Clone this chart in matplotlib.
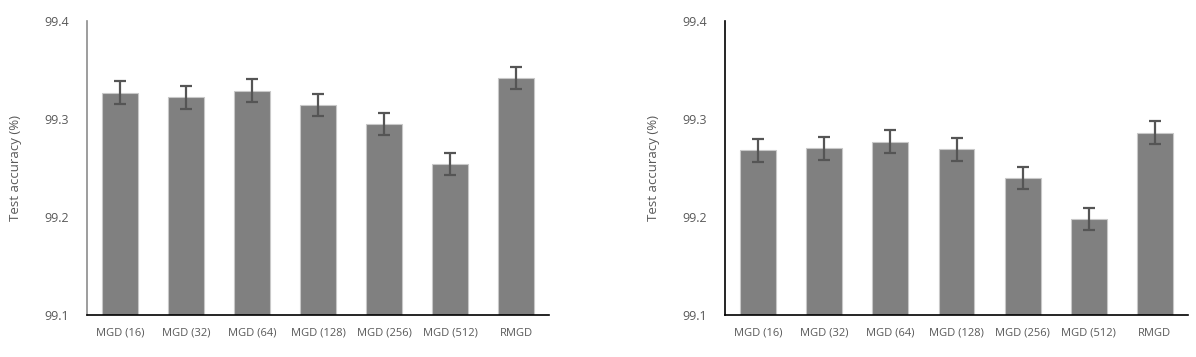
import matplotlib.pyplot as plt
import numpy as np

plt.rcParams['font.family'] = ['Open Sans', 'DejaVu Sans']

labels = ['MGD (16)', 'MGD (32)', 'MGD (64)', 'MGD (128)', 'MGD (256)', 'MGD (512)', 'RMGD']
acc_left = [99.327, 99.322, 99.329, 99.314, 99.295, 99.254, 99.342]
err_left = [0.0114, 0.0114, 0.0114, 0.0114, 0.0114, 0.0114, 0.0114]
acc_right = [99.268, 99.270, 99.277, 99.269, 99.240, 99.198, 99.286]
err_right = [0.0115, 0.0115, 0.0115, 0.0115, 0.0115, 0.0115, 0.0115]
yticks = [99.1, 99.2, 99.3, 99.4]

text_col = '#595959'

fig = plt.figure(figsize=(11.96, 3.57), dpi=100)
W, H = 1196, 357
ax1 = fig.add_axes([87 / W, 1 - 315 / H, 462 / W, 294 / H])
ax2 = fig.add_axes([725 / W, 1 - 315 / H, 463 / W, 294 / H])


def panel(ax, acc, err, left_spine_col):
    x = np.arange(len(labels))
    base = yticks[0]
    ax.bar(x, np.array(acc) - base, bottom=base, width=0.54,
           color='#808080', edgecolor='#c8c8c8', linewidth=0.8, zorder=2)
    ax.errorbar(x, acc, yerr=err, fmt='none', ecolor='#555555',
                elinewidth=1.6, capsize=4, capthick=1.6, zorder=3)
    ax.set_xlim(-0.5, len(labels) - 0.5)
    ax.set_ylim(yticks[0], yticks[-1])
    ax.set_yticks(yticks)
    ax.set_yticklabels([f'{t:.1f}' for t in yticks])
    ax.set_xticks(x)
    ax.set_xticklabels(labels)
    ax.tick_params(axis='y', length=0, pad=13, labelsize=9, labelcolor=text_col)
    ax.tick_params(axis='x', length=0, pad=9, labelsize=8, labelcolor=text_col)
    for s in ['top', 'right']:
        ax.spines[s].set_visible(False)
    ax.spines['bottom'].set_color('black')
    ax.spines['bottom'].set_linewidth(1.2)
    ax.spines['left'].set_color(left_spine_col)
    ax.spines['left'].set_linewidth(1.2)
    ax.set_ylabel('Test accuracy (%)', fontsize=9.5, color=text_col, labelpad=16)


panel(ax1, acc_left, err_left, '#8c8c8c')
panel(ax2, acc_right, err_right, 'black')

fig.savefig('out.png', dpi=100)
